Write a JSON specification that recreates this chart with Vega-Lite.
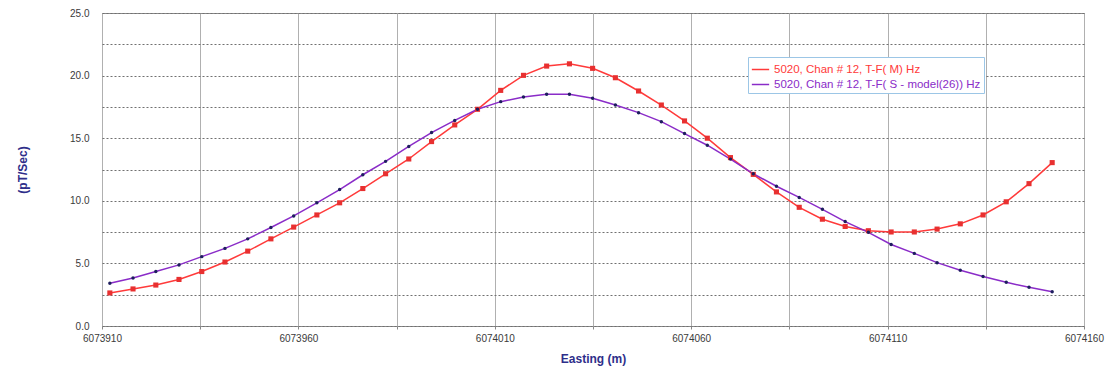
{
  "$schema": "https://vega.github.io/schema/vega-lite/v6.json",
  "autosize": "none",
  "padding": {"left": 102, "top": 13, "right": 25, "bottom": 45},
  "width": 982,
  "height": 313,
  "background": "white",
  "config": {
    "view": {"stroke": "#8a8a8a", "strokeWidth": 1},
    "font": "Liberation Sans"
  },
  "data": {
    "values": [
      {"x": 6073912.0, "v": 2.64, "s": "M"}, {"x": 6073917.9, "v": 2.96, "s": "M"}, {"x": 6073923.7, "v": 3.27, "s": "M"},
      {"x": 6073929.6, "v": 3.72, "s": "M"}, {"x": 6073935.4, "v": 4.35, "s": "M"}, {"x": 6073941.3, "v": 5.11, "s": "M"},
      {"x": 6073947.1, "v": 5.98, "s": "M"}, {"x": 6073953.0, "v": 6.96, "s": "M"}, {"x": 6073958.8, "v": 7.90, "s": "M"},
      {"x": 6073964.7, "v": 8.87, "s": "M"}, {"x": 6073970.5, "v": 9.84, "s": "M"}, {"x": 6073976.4, "v": 10.98, "s": "M"},
      {"x": 6073982.2, "v": 12.16, "s": "M"}, {"x": 6073988.1, "v": 13.34, "s": "M"}, {"x": 6073993.9, "v": 14.73, "s": "M"},
      {"x": 6073999.8, "v": 16.06, "s": "M"}, {"x": 6074005.6, "v": 17.31, "s": "M"}, {"x": 6074011.5, "v": 18.82, "s": "M"},
      {"x": 6074017.3, "v": 20.02, "s": "M"}, {"x": 6074023.2, "v": 20.76, "s": "M"}, {"x": 6074029.0, "v": 20.94, "s": "M"},
      {"x": 6074034.9, "v": 20.58, "s": "M"}, {"x": 6074040.7, "v": 19.83, "s": "M"}, {"x": 6074046.6, "v": 18.77, "s": "M"},
      {"x": 6074052.4, "v": 17.65, "s": "M"}, {"x": 6074058.3, "v": 16.38, "s": "M"}, {"x": 6074064.1, "v": 15.0, "s": "M"},
      {"x": 6074070.0, "v": 13.45, "s": "M"}, {"x": 6074075.8, "v": 12.11, "s": "M"}, {"x": 6074081.7, "v": 10.71, "s": "M"},
      {"x": 6074087.5, "v": 9.48, "s": "M"}, {"x": 6074093.4, "v": 8.53, "s": "M"}, {"x": 6074099.2, "v": 7.95, "s": "M"},
      {"x": 6074105.1, "v": 7.61, "s": "M"}, {"x": 6074110.9, "v": 7.51, "s": "M"}, {"x": 6074116.8, "v": 7.51, "s": "M"},
      {"x": 6074122.6, "v": 7.74, "s": "M"}, {"x": 6074128.5, "v": 8.16, "s": "M"}, {"x": 6074134.3, "v": 8.87, "s": "M"},
      {"x": 6074140.2, "v": 9.92, "s": "M"}, {"x": 6074146.0, "v": 11.37, "s": "M"}, {"x": 6074151.9, "v": 13.05, "s": "M"},
      {"x": 6073912.0, "v": 3.41, "s": "S"}, {"x": 6073917.9, "v": 3.83, "s": "S"}, {"x": 6073923.7, "v": 4.35, "s": "S"},
      {"x": 6073929.6, "v": 4.88, "s": "S"}, {"x": 6073935.4, "v": 5.54, "s": "S"}, {"x": 6073941.3, "v": 6.20, "s": "S"},
      {"x": 6073947.1, "v": 6.96, "s": "S"}, {"x": 6073953.0, "v": 7.87, "s": "S"}, {"x": 6073958.8, "v": 8.79, "s": "S"},
      {"x": 6073964.7, "v": 9.84, "s": "S"}, {"x": 6073970.5, "v": 10.90, "s": "S"}, {"x": 6073976.4, "v": 12.08, "s": "S"},
      {"x": 6073982.2, "v": 13.15, "s": "S"}, {"x": 6073988.1, "v": 14.34, "s": "S"}, {"x": 6073993.9, "v": 15.45, "s": "S"},
      {"x": 6073999.8, "v": 16.42, "s": "S"}, {"x": 6074005.6, "v": 17.31, "s": "S"}, {"x": 6074011.5, "v": 17.92, "s": "S"},
      {"x": 6074017.3, "v": 18.29, "s": "S"}, {"x": 6074023.2, "v": 18.51, "s": "S"}, {"x": 6074029.0, "v": 18.51, "s": "S"},
      {"x": 6074034.9, "v": 18.19, "s": "S"}, {"x": 6074040.7, "v": 17.65, "s": "S"}, {"x": 6074046.6, "v": 17.04, "s": "S"},
      {"x": 6074052.4, "v": 16.32, "s": "S"}, {"x": 6074058.3, "v": 15.37, "s": "S"}, {"x": 6074064.1, "v": 14.44, "s": "S"},
      {"x": 6074070.0, "v": 13.33, "s": "S"}, {"x": 6074075.8, "v": 12.16, "s": "S"}, {"x": 6074081.7, "v": 11.16, "s": "S"},
      {"x": 6074087.5, "v": 10.27, "s": "S"}, {"x": 6074093.4, "v": 9.32, "s": "S"}, {"x": 6074099.2, "v": 8.34, "s": "S"},
      {"x": 6074105.1, "v": 7.48, "s": "S"}, {"x": 6074110.9, "v": 6.51, "s": "S"}, {"x": 6074116.8, "v": 5.80, "s": "S"},
      {"x": 6074122.6, "v": 5.06, "s": "S"}, {"x": 6074128.5, "v": 4.46, "s": "S"}, {"x": 6074134.3, "v": 3.96, "s": "S"},
      {"x": 6074140.2, "v": 3.49, "s": "S"}, {"x": 6074146.0, "v": 3.09, "s": "S"}, {"x": 6074151.9, "v": 2.74, "s": "S"}
    ]
  },
  "encoding": {
    "x": {
      "field": "x", "type": "quantitative",
      "scale": {"domain": [6073910, 6074160], "nice": false, "zero": false},
      "axis": {
        "title": "Easting (m)",
        "values": [6073910, 6073935, 6073960, 6073985, 6074010, 6074035, 6074060, 6074085, 6074110, 6074135, 6074160],
        "labelExpr": "(datum.value - 6073910) % 50 == 0 ? format(datum.value, 'd') : ''",
        "labelFlush": false, "labelOverlap": false,
        "labelFontSize": 10, "labelColor": "#3a3a3a", "labelPadding": 4,
        "grid": true, "gridColor": "#b0b0b0", "gridWidth": 1,
        "domain": false, "tickSize": 3, "tickColor": "#888888",
        "titleColor": "#2e2e8a", "titleFontSize": 12, "titleFontWeight": "bold", "titlePadding": 10
      }
    },
    "y": {
      "field": "v", "type": "quantitative",
      "scale": {"domain": [0, 25], "nice": false},
      "axis": {
        "title": "(pT/Sec)",
        "values": [0, 2.5, 5, 7.5, 10, 12.5, 15, 17.5, 20, 22.5, 25],
        "labelExpr": "datum.value % 5 == 0 ? format(datum.value, '.1f') : ''",
        "labelOverlap": false, "labelFlush": false,
        "labelFontSize": 10, "labelColor": "#3a3a3a", "labelPadding": 13,
        "grid": true, "gridColor": "#707070", "gridDash": [2, 2], "gridWidth": 1,
        "domain": false, "ticks": false,
        "titleColor": "#2e2e8a", "titleFontSize": 12, "titleFontWeight": "bold", "titlePadding": 40
      }
    }
  },
  "layer": [
    {
      "mark": {"type": "line", "strokeWidth": 1.5},
      "encoding": {
        "color": {
          "field": "s", "type": "nominal",
          "scale": {"domain": ["M", "S"], "range": ["#ff3a3a", "#8a2cc8"]},
          "legend": {
            "title": null,
            "orient": "none", "legendX": 646, "legendY": 44,
            "strokeColor": "#9cc6e6", "fillColor": "white", "padding": 3,
            "symbolType": "stroke", "symbolSize": 300, "symbolStrokeWidth": 1.5,
            "labelFontSize": 11.5, "labelLimit": 400, "rowPadding": 0,
            "labelExpr": "datum.value == 'M' ? '5020, Chan # 12, T-F( M) Hz' : '5020, Chan # 12, T-F( S - model(26)) Hz'",
            "encode": {
              "labels": {"update": {"fill": {"signal": "datum.value == 'M' ? '#ff3a3a' : '#8a2cc8'"}}}
            }
          }
        }
      }
    },
    {
      "transform": [{"filter": "datum.s == 'M'"}],
      "mark": {"type": "point", "shape": "square", "filled": true, "size": 26, "color": "#e83030", "opacity": 1}
    },
    {
      "transform": [{"filter": "datum.s == 'S'"}],
      "mark": {"type": "point", "shape": "circle", "filled": true, "size": 12, "color": "#1e1e5e", "opacity": 1}
    }
  ]
}
